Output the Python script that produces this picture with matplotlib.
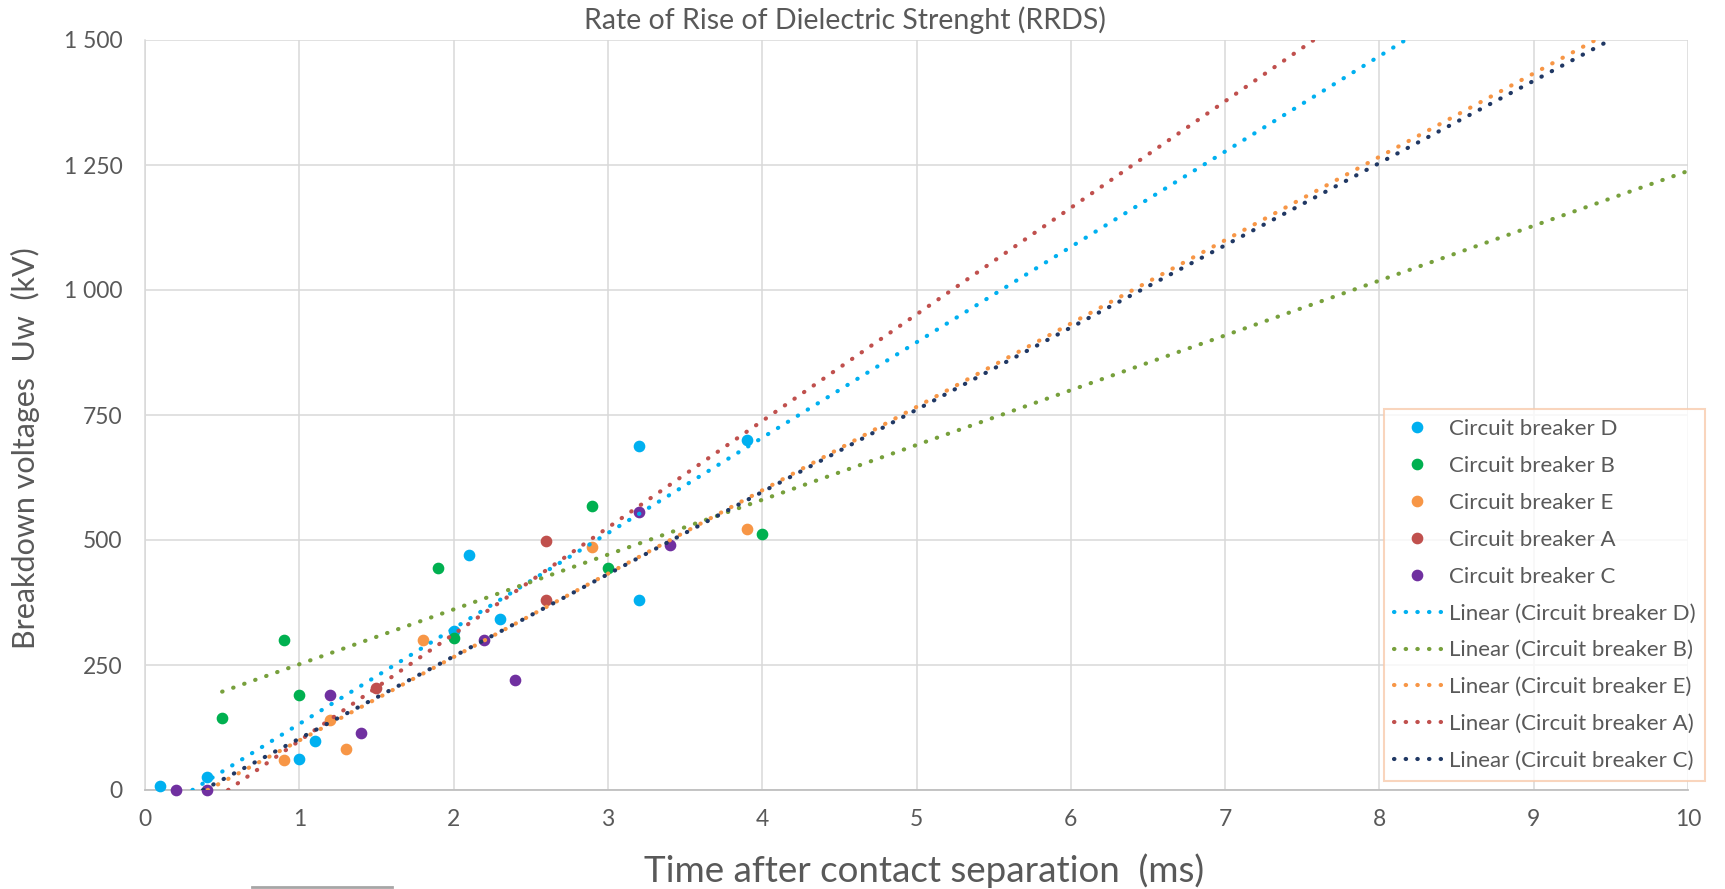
import matplotlib
matplotlib.use("Agg")
import matplotlib.pyplot as plt
import numpy as np
from matplotlib.lines import Line2D

# measured breakdown voltages (kV) vs time after contact separation (ms)
names = ["Circuit breaker D", "Circuit breaker B", "Circuit breaker E",
         "Circuit breaker A", "Circuit breaker C"]
d_x = [0.1, 0.4, 1.0, 1.1, 2.0, 2.1, 2.3, 3.2, 3.2, 3.9]
d_y = [8, 27, 62, 99, 318, 470, 343, 688, 380, 701]
b_x = [0.5, 0.9, 1.0, 1.9, 2.0, 2.9, 3.0, 4.0]
b_y = [145, 300, 190, 445, 305, 569, 445, 512]
e_x = [0.9, 1.2, 1.3, 1.8, 2.9, 3.9]
e_y = [61, 141, 83, 300, 487, 523]
a_x = [1.5, 2.6, 2.6]
a_y = [205, 499, 380]
c_x = [0.2, 0.4, 1.2, 1.4, 2.2, 2.4, 3.2, 3.4]
c_y = [0, 0, 190, 115, 301, 220, 557, 491]

xs_all = [d_x, b_x, e_x, a_x, c_x]
ys_all = [d_y, b_y, e_y, a_y, c_y]
marker_colors = ["#00b0f0", "#00b050", "#f79646", "#c0504d", "#7030a0"]
trend_colors = ["#00b0f0", "#77a03c", "#f79646", "#c0504d", "#203864"]

TXT = "#595959"
plt.rcParams["font.family"] = ["Lato", "DejaVu Sans"]

fig = plt.figure(figsize=(17.25, 8.89), dpi=100)
ax = fig.add_axes([145 / 1725, 1 - 790 / 889, 1543 / 1725, 750 / 889])

ax.set_xlim(0, 10)
ax.set_ylim(0, 1500)
ax.set_xticks(range(0, 11))
ax.set_yticks(range(0, 1501, 250))
ax.set_yticklabels([f"{v:,}".replace(",", " ") for v in range(0, 1501, 250)])
ax.grid(True, color="#d9d9d9", lw=1.1)
ax.set_axisbelow(True)
for s in ["top", "right"]:
    ax.spines[s].set_visible(False)
ax.spines["left"].set_color("#d9d9d9")
ax.spines["left"].set_linewidth(1.1)
ax.spines["bottom"].set_color("#bfbfbf")
ax.spines["bottom"].set_linewidth(1.3)
ax.tick_params(length=0, colors=TXT)
ax.tick_params(axis="y", labelsize=16.5, pad=16)
ax.tick_params(axis="x", labelsize=16.5, pad=14)

handles = []
for name, x, y, col in zip(names, xs_all, ys_all, marker_colors):
    h, = ax.plot(x, y, "o", ls="none", ms=7.4, color=col, label=name,
                 clip_on=False, zorder=3)
    handles.append(h)

for name, x, y, col in zip(names, xs_all, ys_all, trend_colors):
    x = np.array(x, float)
    m, b = np.polyfit(x, np.array(y, float), 1)
    x_lo = max(0.0, -b / m) if b < 0 else x.min()
    x_hi = min(10.0, (1500 - b) / m)
    tx = np.linspace(x_lo, x_hi, 200)
    h, = ax.plot(tx, m * tx + b, color=col, lw=3.0, ls=(0, (0.1, 2.7)),
                 dash_capstyle="round", label=f"Linear ({name})", zorder=4)
    handles.append(h)

leg = fig.legend(handles=handles, loc="upper left",
                 bbox_to_anchor=(1384 / 1725, 1 - 409 / 889), frameon=True,
                 fontsize=16, labelcolor=TXT, handlelength=2.1,
                 handletextpad=0.36, labelspacing=0.76, borderpad=0.45,
                 borderaxespad=0, fancybox=False)
leg.get_frame().set_edgecolor("#f8cbad")
leg.get_frame().set_linewidth(1.5)

fig.text(845 / 1725, 1 - 20 / 889, "Rate of Rise of Dielectric Strenght (RRDS)",
         ha="center", va="center", fontsize=20.5, color=TXT)
fig.text(924 / 1725, 1 - 871 / 889, "Time after contact separation  (ms)",
         ha="center", va="center", fontsize=26.5, color=TXT)
fig.text(25 / 1725, 1 - 448 / 889, "Breakdown voltages  Uw  (kV)",
         ha="center", va="center", rotation=90, fontsize=22, color=TXT)

# stray border of a box cut off at the bottom edge
fig.add_artist(Line2D([252 / 1725, 392 / 1725], [1 - 887 / 889] * 2,
                      color="#a6a6a6", lw=2, transform=fig.transFigure))

fig.savefig("out.png", dpi=100)
